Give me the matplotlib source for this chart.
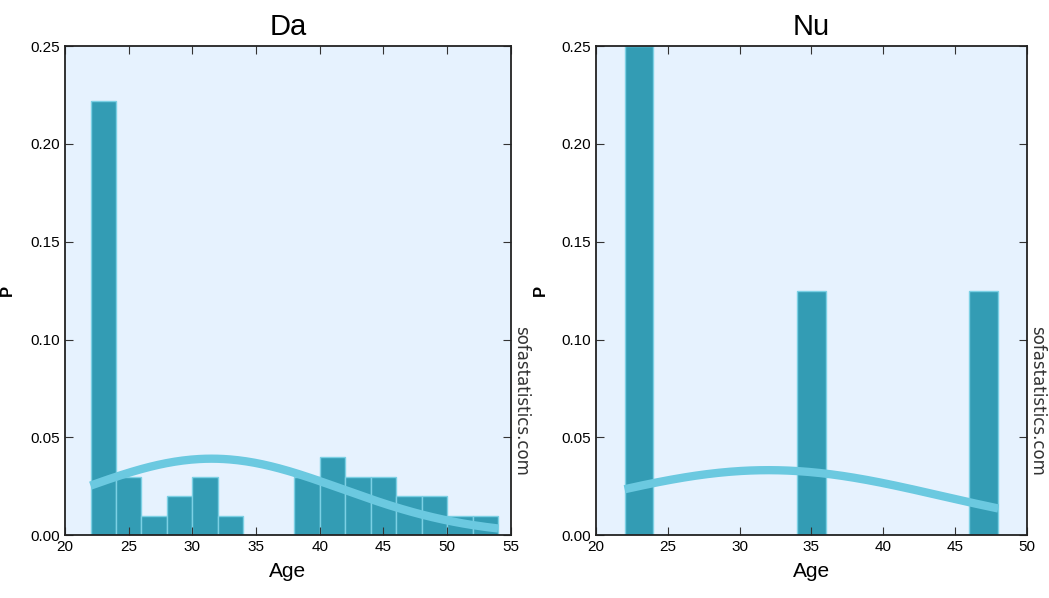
import numpy as np
import matplotlib
matplotlib.use("Agg")
import matplotlib.pyplot as plt

plt.rcParams['font.family'] = ['Liberation Sans', 'DejaVu Sans']

# -----------------------------
# Data
# -----------------------------
da_bin_edges = [22, 24, 26, 28, 30, 32, 34, 36, 38, 40, 42, 44, 46, 48, 50, 52, 54]
da_density = [0.222, 0.03, 0.01, 0.02, 0.03, 0.01, 0.0, 0.0,
              0.03, 0.04, 0.03, 0.03, 0.02, 0.02, 0.01, 0.01]
da_mean, da_sd = 31.5, 10.2

nu_bin_edges = [22, 24, 26, 28, 30, 32, 34, 36, 38, 40, 42, 44, 46, 48]
nu_density = [0.25, 0.0, 0.0, 0.0, 0.0, 0.0, 0.125, 0.0, 0.0, 0.0, 0.0, 0.0, 0.125]
nu_mean, nu_sd = 32.0, 12.0

panels = [
    ("Da", da_bin_edges, da_density, da_mean, da_sd, (20, 55)),
    ("Nu", nu_bin_edges, nu_density, nu_mean, nu_sd, (20, 50)),
]

bar_color = "#339cb4"
edge_color = "#7cd0e4"
curve_color = "#6bc9e0"
bg_color = "#e6f2fe"

fig = plt.figure(figsize=(10.49, 5.98), dpi=100)
positions = [[0.062, 0.105, 0.425, 0.818], [0.568, 0.105, 0.411, 0.818]]

for pos, (title, edges, dens, mu, sd, xlim) in zip(positions, panels):
    ax = fig.add_axes(pos)
    ax.set_facecolor(bg_color)
    edges = np.array(edges)
    ax.bar(edges[:-1], dens, width=np.diff(edges), align="edge",
           color=bar_color, edgecolor=edge_color, linewidth=1)

    # normal curve from the sample mean / sd
    xs = np.linspace(edges[0], edges[-1], 200)
    ys = np.exp(-(xs - mu) ** 2 / (2 * sd ** 2)) / (sd * np.sqrt(2 * np.pi))
    ax.plot(xs, ys, color=curve_color, linewidth=6, solid_capstyle="butt")

    ax.set_xlim(*xlim)
    ax.set_ylim(0, 0.25)
    ax.set_yticks(np.arange(0, 0.26, 0.05))
    ax.set_yticklabels(["%.2f" % v for v in np.arange(0, 0.26, 0.05)])
    ax.tick_params(direction="in", top=True, right=True, labelsize=11,
                   length=6, color="#333333")
    for s in ax.spines.values():
        s.set_linewidth(1.3)
        s.set_color("#222222")

    ax.set_title(title, fontsize=21, pad=8)
    ax.set_xlabel("Age", fontsize=15, labelpad=6)
    ax.set_ylabel("P", fontsize=12, fontweight="bold")
    ax.yaxis.set_label_coords(-0.112, 0.5)
    ax.text(1.003, 0.275, "sofastatistics.com", transform=ax.transAxes,
            rotation=-90, ha="left", va="center", fontsize=12,
            family=["DejaVu Sans"], color="#333333")

fig.savefig("out.png", dpi=100)
